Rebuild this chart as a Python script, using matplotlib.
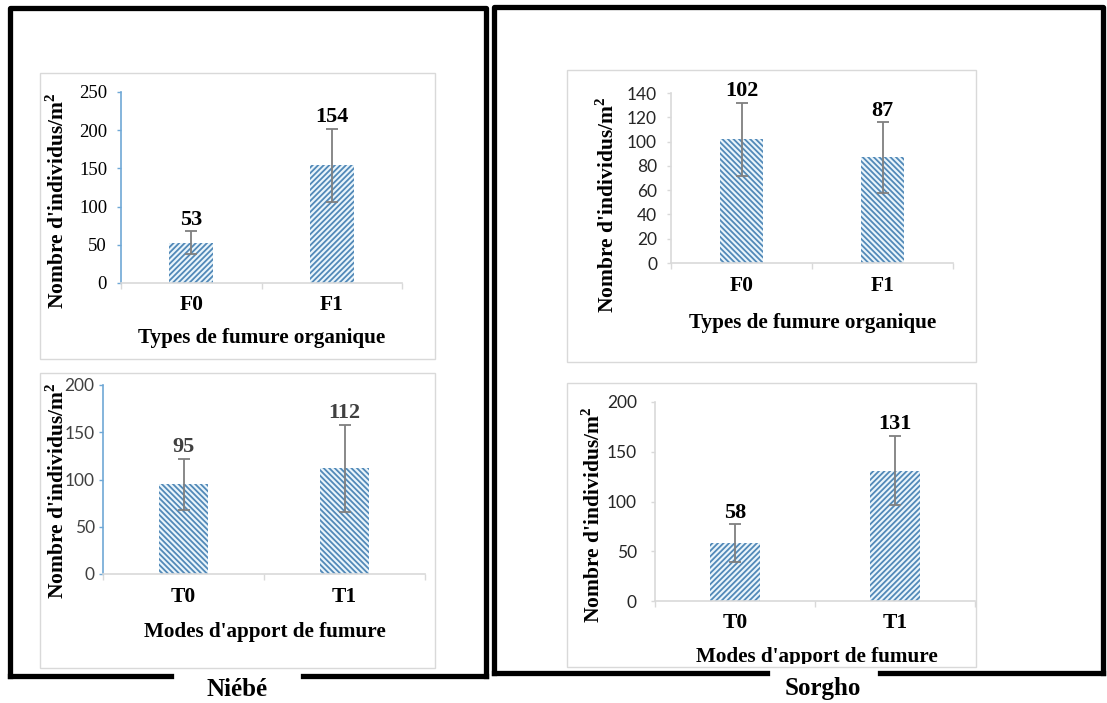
import matplotlib
matplotlib.use("Agg")
import matplotlib.pyplot as plt
from matplotlib.lines import Line2D
from matplotlib.patches import Rectangle
from matplotlib.transforms import Bbox

W, H = 1107, 703
DPI = 100

# ---- data -------------------------------------------------------------
fumure_types = ["F0", "F1"]
apport_modes = ["T0", "T1"]

niebe_fumure = [53, 154]
niebe_fumure_err = [15, 48]
niebe_apport = [95, 112]
niebe_apport_err = [27, 46]

sorgho_fumure = [102, 87]
sorgho_fumure_err = [30, 29]
sorgho_apport = [58, 131]
sorgho_apport_err = [19, 35]

ylabel_text = "Nombre d'individus/m$^{\\mathbf{2}}$"
xlabel_fumure = "Types de fumure organique"
xlabel_apport = "Modes d'apport de fumure"
crop_names = ["Niébé", "Sorgho"]

SERIF = "Liberation Serif"
SANS = "Lato"
HATCH_COLOR = "#5289b8"
FACE_COLOR = "#eaf5fb"
GRID_GRAY = "#d9d9d9"
ERR_GRAY = "#7f7f7f"

plt.rcParams["hatch.linewidth"] = 1.3
plt.rcParams["mathtext.fontset"] = "custom"
plt.rcParams["mathtext.rm"] = SERIF
plt.rcParams["mathtext.bf"] = SERIF + ":bold"

fig = plt.figure(figsize=(W / DPI, H / DPI), dpi=DPI)
fig.patch.set_facecolor("white")


def fx(x):
    return x / W


def fy(y):
    return 1 - y / H


def px_axes(x0, y0, x1, y1):
    return fig.add_axes([fx(x0), fy(y1), (x1 - x0) / W, (y1 - y0) / H])


def chart_box(x0, y0, x1, y1):
    fig.patches.append(Rectangle((fx(x0), fy(y1)), (x1 - x0) / W, (y1 - y0) / H,
                                 transform=fig.transFigure, facecolor="white",
                                 edgecolor=GRID_GRAY, linewidth=1.0, zorder=-5))


def frame_line(xs, ys):
    fig.add_artist(Line2D([fx(x) for x in xs], [fy(y) for y in ys],
                          transform=fig.transFigure, color="black",
                          linewidth=3.8, solid_capstyle="projecting"))


def bar_panel(box, axes_px, cats, values, errs, ymax, ystep, hatch,
              tick_font, tick_size, tick_color, yaxis_color, ytick_pad,
              value_color, ylabel_pos, xlabel, xlabel_pos, clip_bottom=None):
    chart_box(*box)
    ax = px_axes(*axes_px)
    ax.set_facecolor("none")
    xs = list(range(len(cats)))
    ax.bar(xs, values, width=0.31, color=FACE_COLOR, edgecolor=HATCH_COLOR,
           linewidth=0, hatch=hatch, zorder=2)
    ax.errorbar(xs, values, yerr=errs, fmt="none", ecolor=ERR_GRAY,
                elinewidth=1.3, capsize=4, capthick=1.3, zorder=3)
    for x, v, e in zip(xs, values, errs):
        ax.annotate(f"{v}", (x, v + e), xytext=(0, 1), textcoords="offset points",
                    ha="center", va="bottom", fontfamily=SERIF,
                    fontweight="bold", fontsize=16, color=value_color,
                    annotation_clip=False)
    ax.set_xlim(-0.5, len(cats) - 0.5)
    ax.set_ylim(0, ymax)
    ax.set_yticks(range(0, ymax + 1, ystep))
    for lab in ax.get_yticklabels():
        lab.set_fontfamily(tick_font)
        lab.set_fontsize(tick_size)
        lab.set_color(tick_color)
    ax.tick_params(axis="y", length=3, width=1, color=yaxis_color, pad=ytick_pad)
    ax.set_xticks(xs)
    ax.set_xticklabels(cats, fontfamily=SERIF, fontweight="bold", fontsize=15.5)
    ax.set_xticks([i - 0.5 for i in range(len(cats) + 1)], minor=True)
    ax.tick_params(axis="x", which="major", length=0, pad=9)
    ax.tick_params(axis="x", which="minor", length=4, width=1, color=GRID_GRAY)
    for side in ("top", "right"):
        ax.spines[side].set_visible(False)
    ax.spines["left"].set_color(yaxis_color)
    ax.spines["left"].set_linewidth(1.2)
    ax.spines["bottom"].set_color(GRID_GRAY)
    ax.spines["bottom"].set_linewidth(1.2)
    fig.text(fx(ylabel_pos[0]), fy(ylabel_pos[1]), ylabel_text, rotation=90,
             ha="center", va="center", fontfamily=SERIF, fontweight="bold",
             fontsize=15.5)
    xl = fig.text(fx(xlabel_pos[0]), fy(xlabel_pos[1]), xlabel, ha="center",
                  va="center", fontfamily=SERIF, fontweight="bold", fontsize=15.2)
    if clip_bottom is not None:
        # the axis title runs past the bottom of its chart box and is cut there
        xl.set_clip_box(Bbox.from_extents(0, H - clip_bottom, W, H))
        xl.set_clip_on(True)
    return ax


# Niébé: organic manure types
bar_panel(box=(40, 73, 435, 359), axes_px=(121, 92, 402, 283),
          cats=fumure_types, values=niebe_fumure, errs=niebe_fumure_err,
          ymax=250, ystep=50, hatch="//////",
          tick_font=SERIF, tick_size=13.5, tick_color="black",
          yaxis_color="#6fa8d6", ytick_pad=7, value_color="black",
          ylabel_pos=(58, 201), xlabel=xlabel_fumure, xlabel_pos=(262, 338))

# Niébé: application modes
bar_panel(box=(40, 373, 435, 668), axes_px=(103, 385, 425, 574),
          cats=apport_modes, values=niebe_apport, errs=niebe_apport_err,
          ymax=200, ystep=50, hatch="\\\\\\\\\\\\",
          tick_font=SANS, tick_size=12.5, tick_color="#404040",
          yaxis_color="#6fa8d6", ytick_pad=3, value_color="#404040",
          ylabel_pos=(57, 491), xlabel=xlabel_apport, xlabel_pos=(265, 632))

# Sorgho: organic manure types
bar_panel(box=(567, 70, 976, 362), axes_px=(671, 93, 953, 263),
          cats=fumure_types, values=sorgho_fumure, errs=sorgho_fumure_err,
          ymax=140, ystep=20, hatch="\\\\\\\\\\\\",
          tick_font=SANS, tick_size=12.5, tick_color="#262626",
          yaxis_color=GRID_GRAY, ytick_pad=7, value_color="black",
          ylabel_pos=(607, 205), xlabel=xlabel_fumure, xlabel_pos=(813, 323))

# Sorgho: application modes
bar_panel(box=(567, 383, 976, 667), axes_px=(655, 402, 975, 601),
          cats=apport_modes, values=sorgho_apport, errs=sorgho_apport_err,
          ymax=200, ystep=50, hatch="//////",
          tick_font=SANS, tick_size=12.5, tick_color="#262626",
          yaxis_color=GRID_GRAY, ytick_pad=10, value_color="black",
          ylabel_pos=(593, 515), xlabel=xlabel_apport, xlabel_pos=(817, 657),
          clip_bottom=664)

# Outer frames, each with a gap in the bottom edge for the crop name
frame_line([10, 10, 486, 486], [676, 8, 8, 676])
frame_line([10, 171], [676, 676])
frame_line([303, 486], [676, 676])
frame_line([494, 494, 1103, 1103], [673, 7, 7, 673])
frame_line([494, 767], [673, 673])
frame_line([880, 1103], [673, 673])

fig.text(fx(237), fy(690), crop_names[0], ha="center", va="center",
         fontfamily=SERIF, fontweight="bold", fontsize=18)
fig.text(fx(823), fy(688), crop_names[1], ha="center", va="center",
         fontfamily=SERIF, fontweight="bold", fontsize=18)

fig.savefig("out.png", dpi=DPI)
